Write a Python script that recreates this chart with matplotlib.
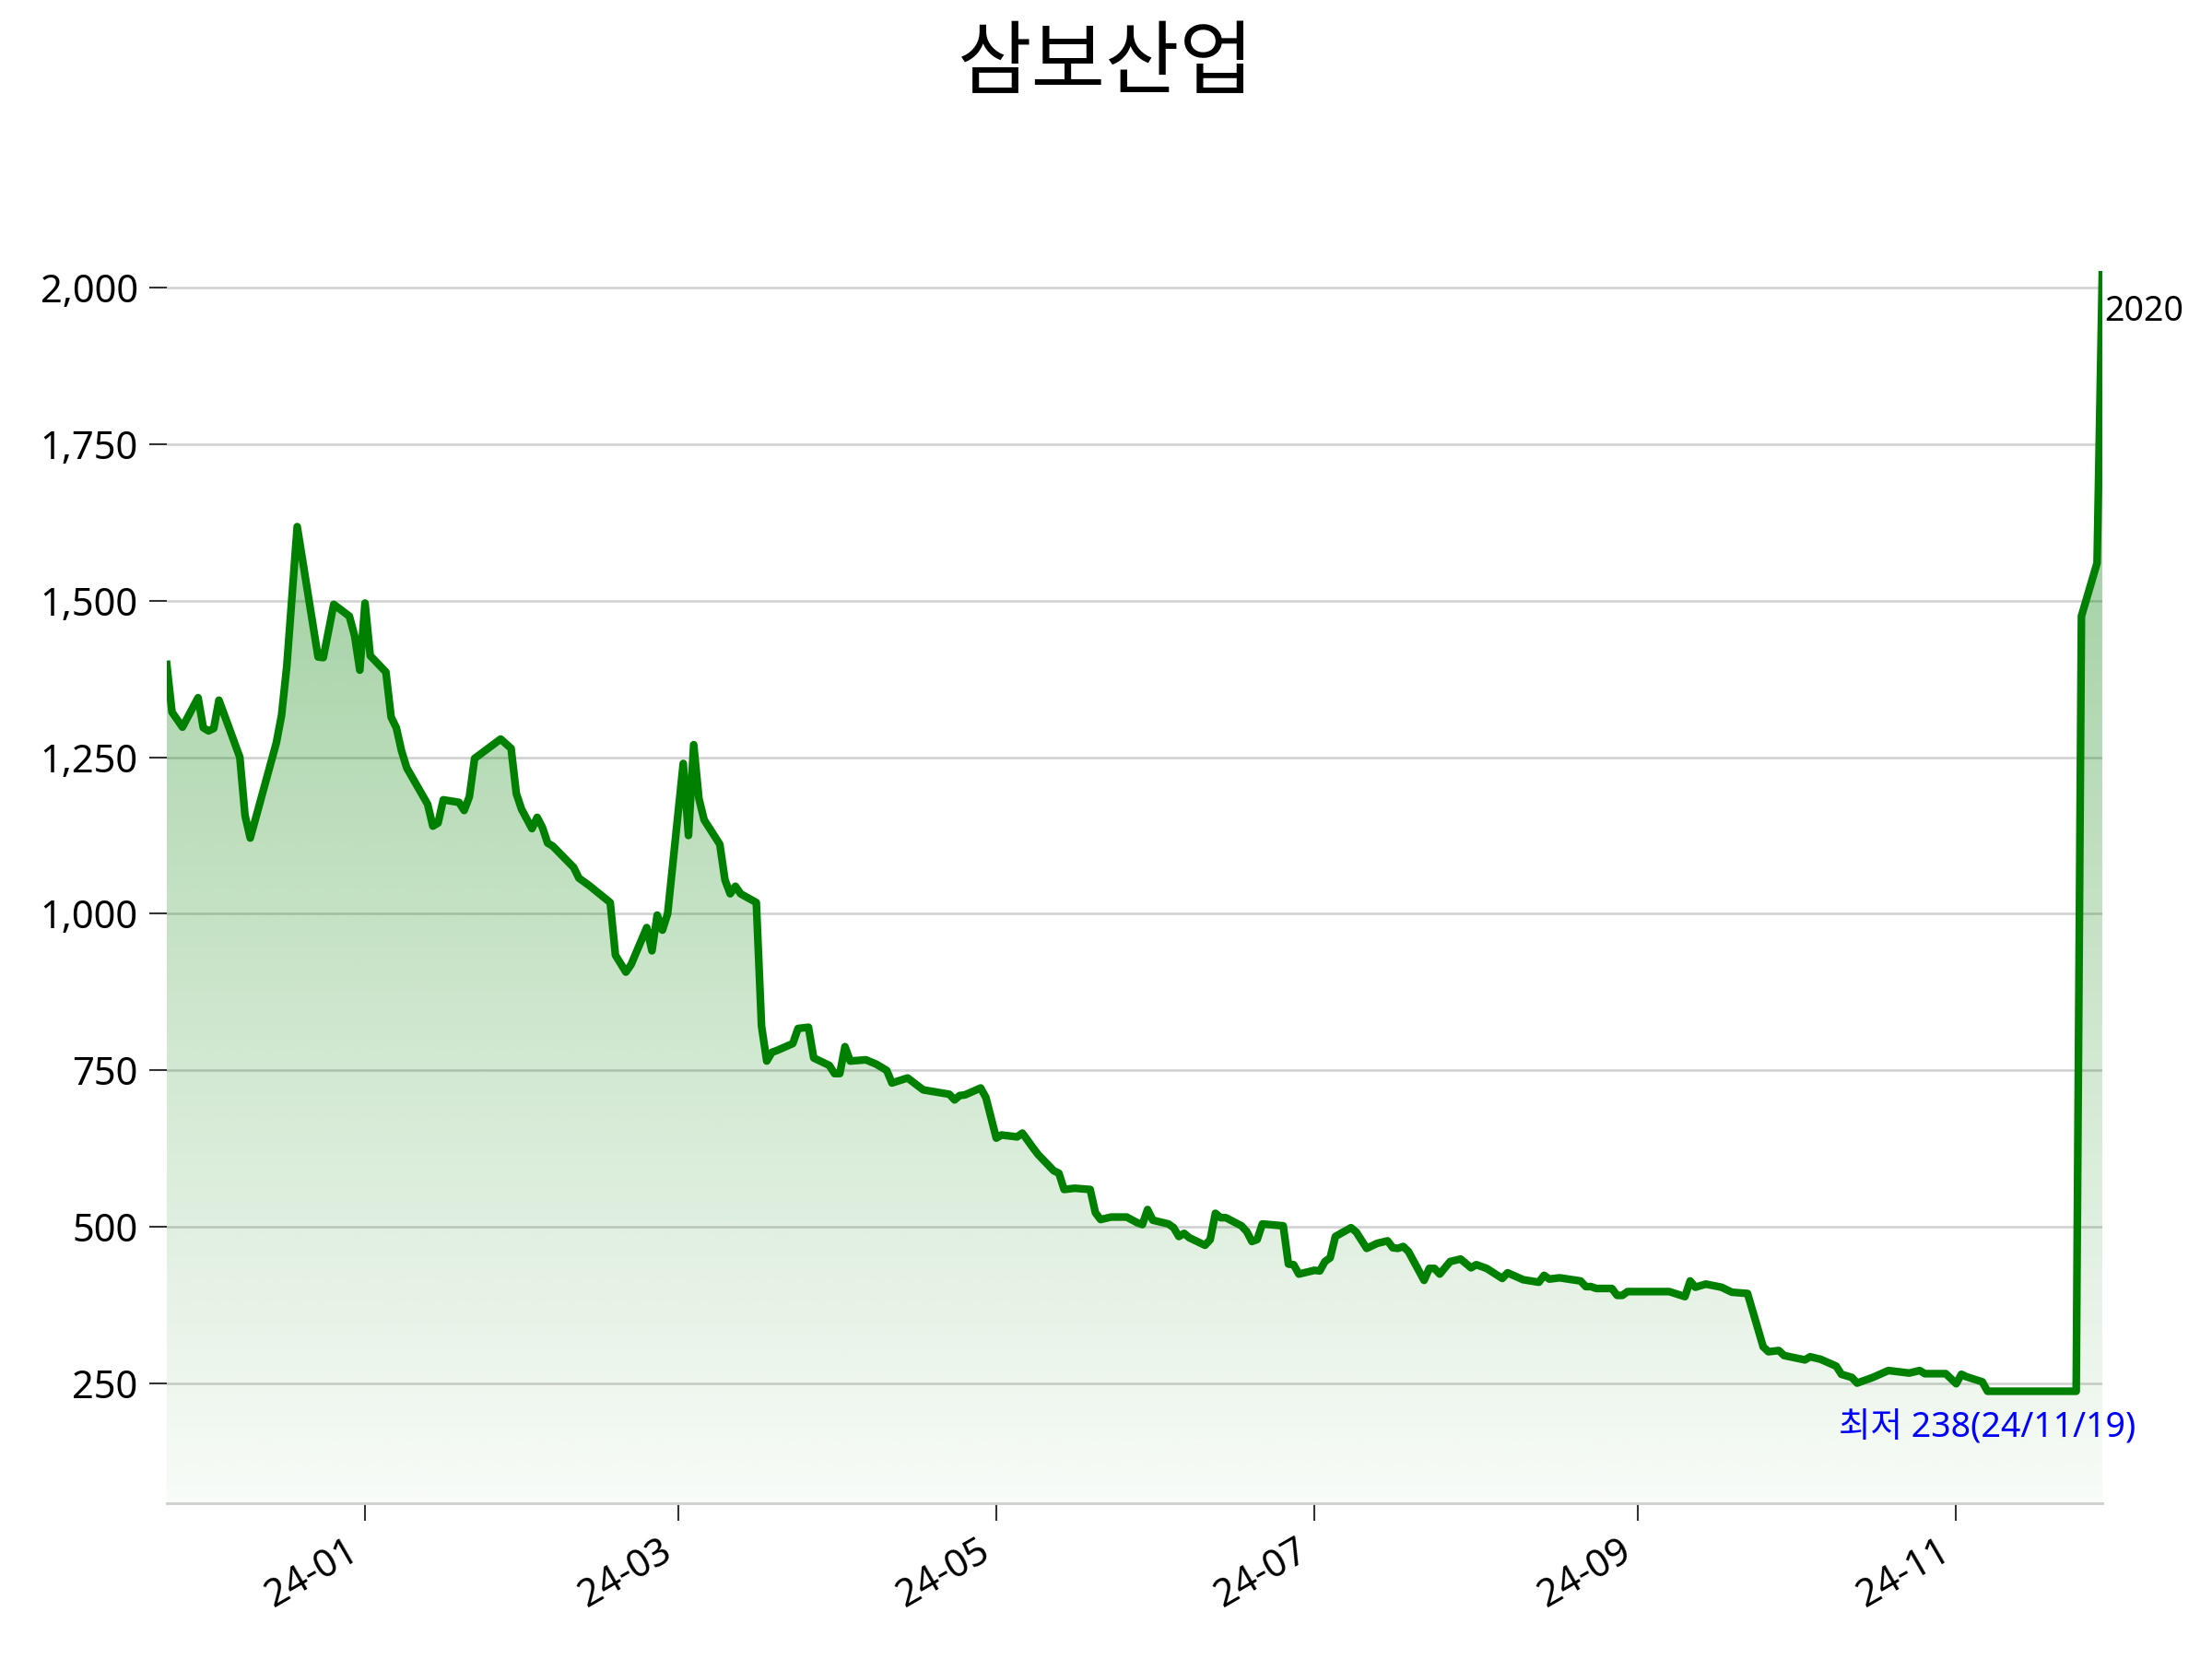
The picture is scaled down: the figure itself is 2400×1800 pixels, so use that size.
import matplotlib
matplotlib.use('Agg')
import matplotlib.pyplot as plt
import matplotlib.dates as mdates
import matplotlib.ticker as mticker
import numpy as np
import pandas as pd

plt.rcParams['font.family'] = ['Noto Sans', 'Noto Sans CJK KR', 'DejaVu Sans']

title = '삼보산업'
low_label = '최저 238(24/11/19)'

# closing prices
dates = [
    '2023-11-24', '2023-11-25', '2023-11-27', '2023-11-30', '2023-12-01',
    '2023-12-02', '2023-12-03', '2023-12-04', '2023-12-08', '2023-12-09',
    '2023-12-10', '2023-12-15', '2023-12-16', '2023-12-17', '2023-12-19',
    '2023-12-23', '2023-12-24', '2023-12-26', '2023-12-29', '2023-12-30',
    '2023-12-31', '2024-01-01', '2024-01-02', '2024-01-05', '2024-01-06',
    '2024-01-07', '2024-01-08', '2024-01-09', '2024-01-13', '2024-01-14',
    '2024-01-15', '2024-01-16', '2024-01-19', '2024-01-20', '2024-01-21',
    '2024-01-22', '2024-01-27', '2024-01-29', '2024-01-30', '2024-01-31',
    '2024-02-02', '2024-02-03', '2024-02-04', '2024-02-05', '2024-02-06',
    '2024-02-10', '2024-02-11', '2024-02-13', '2024-02-17', '2024-02-18',
    '2024-02-20', '2024-02-21', '2024-02-24', '2024-02-25', '2024-02-26',
    '2024-02-27', '2024-02-28', '2024-03-02', '2024-03-03', '2024-03-04',
    '2024-03-05', '2024-03-06', '2024-03-09', '2024-03-10', '2024-03-11',
    '2024-03-12', '2024-03-13', '2024-03-16', '2024-03-17', '2024-03-18',
    '2024-03-19', '2024-03-20', '2024-03-23', '2024-03-24', '2024-03-26',
    '2024-03-27', '2024-03-30', '2024-03-31', '2024-04-01', '2024-04-02',
    '2024-04-03', '2024-04-06', '2024-04-08', '2024-04-10', '2024-04-11',
    '2024-04-14', '2024-04-17', '2024-04-22', '2024-04-23', '2024-04-24',
    '2024-04-25', '2024-04-28', '2024-04-29', '2024-05-01', '2024-05-02',
    '2024-05-05', '2024-05-06', '2024-05-08', '2024-05-09', '2024-05-12',
    '2024-05-13', '2024-05-14', '2024-05-16', '2024-05-19', '2024-05-20',
    '2024-05-21', '2024-05-23', '2024-05-26', '2024-05-28', '2024-05-29',
    '2024-05-30', '2024-05-31', '2024-06-03', '2024-06-04', '2024-06-05',
    '2024-06-06', '2024-06-07', '2024-06-10', '2024-06-11', '2024-06-12',
    '2024-06-13', '2024-06-14', '2024-06-17', '2024-06-18', '2024-06-19',
    '2024-06-20', '2024-06-21', '2024-06-25', '2024-06-26', '2024-06-27',
    '2024-06-28', '2024-07-01', '2024-07-02', '2024-07-03', '2024-07-04',
    '2024-07-05', '2024-07-08', '2024-07-09', '2024-07-11', '2024-07-13',
    '2024-07-15', '2024-07-16', '2024-07-17', '2024-07-18', '2024-07-19',
    '2024-07-22', '2024-07-23', '2024-07-24', '2024-07-25', '2024-07-27',
    '2024-07-29', '2024-07-31', '2024-08-01', '2024-08-03', '2024-08-06',
    '2024-08-07', '2024-08-10', '2024-08-13', '2024-08-14', '2024-08-15',
    '2024-08-17', '2024-08-21', '2024-08-22', '2024-08-23', '2024-08-24',
    '2024-08-27', '2024-08-28', '2024-08-29', '2024-08-30', '2024-09-07',
    '2024-09-10', '2024-09-11', '2024-09-12', '2024-09-14', '2024-09-17',
    '2024-09-19', '2024-09-22', '2024-09-25', '2024-09-26', '2024-09-28',
    '2024-09-29', '2024-10-03', '2024-10-04', '2024-10-06', '2024-10-09',
    '2024-10-10', '2024-10-12', '2024-10-13', '2024-10-16', '2024-10-19',
    '2024-10-23', '2024-10-25', '2024-10-26', '2024-10-30', '2024-11-01',
    '2024-11-02', '2024-11-03', '2024-11-06', '2024-11-07', '2024-11-19',
    '2024-11-24', '2024-11-25', '2024-11-28', '2024-11-29',
]
prices = [
    1398, 1322, 1298, 1345, 1297, 1292, 1296, 1341, 1250, 1157,
    1121, 1273, 1317, 1395, 1618, 1410, 1409, 1494, 1475, 1444,
    1389, 1496, 1412, 1386, 1314, 1297, 1260, 1233, 1175, 1140,
    1145, 1182, 1178, 1165, 1187, 1248, 1279, 1264, 1192, 1167,
    1136, 1154, 1138, 1113, 1108, 1074, 1057, 1045, 1018, 934,
    907, 919, 978, 941, 998, 974, 1000, 1240, 1125, 1270,
    1184, 1150, 1111, 1054, 1032, 1044, 1032, 1018, 821, 765,
    779, 782, 793, 817, 819, 770, 758, 745, 745, 788,
    765, 767, 760, 750, 730, 738, 719, 712, 703, 710,
    711, 722, 707, 642, 647, 644, 650, 627, 616, 590,
    586, 560, 562, 560, 523, 512, 516, 516, 507, 504,
    528, 511, 505, 499, 485, 490, 483, 471, 480, 522,
    515, 515, 502, 493, 477, 480, 505, 502, 441, 440,
    425, 431, 430, 445, 451, 485, 499, 492, 466, 474,
    478, 467, 466, 469, 461, 415, 434, 434, 425, 445,
    449, 435, 440, 434, 418, 427, 416, 412, 423, 417,
    419, 414, 405, 405, 402, 402, 391, 391, 397, 397,
    389, 414, 404, 409, 404, 396, 394, 309, 301, 303,
    295, 288, 293, 289, 278, 265, 260, 251, 260, 271,
    267, 271, 266, 266, 250, 265, 261, 253, 238, 238,
    238, 1475, 1560, 2020,
]

x = mdates.date2num(pd.to_datetime(dates))
y = np.array(prices, dtype=float)
y_lo, y_hi = 59.5, 2027

fig = plt.figure(figsize=(8, 6), dpi=300)
ax = fig.add_axes([0.0754, 0.094, 0.875, 0.743])

# gradient area under the line
poly = ax.fill_between(x, y, y_lo, facecolor='none', edgecolor='none')
grad = np.zeros((256, 1, 4))
grad[..., 1] = 128 / 255
grad[..., 3] = np.linspace(0.45, 0.03, 256)[:, None]
img = ax.imshow(grad, extent=[x[0], x[-1], y_lo, y_hi], aspect='auto',
                origin='upper', zorder=1, interpolation='bilinear')
img.set_clip_path(poly.get_paths()[0], transform=ax.transData)

ax.plot(x, y, color='green', lw=2, zorder=3)

ax.set_xlim(x[0], x[-1])
ax.set_ylim(y_lo, y_hi)

ax.yaxis.set_major_locator(mticker.MultipleLocator(250))
ax.yaxis.set_major_formatter(mticker.FuncFormatter(lambda v, p: f'{v:,.0f}'))
ax.xaxis.set_major_locator(mdates.MonthLocator(bymonth=[1, 3, 5, 7, 9, 11]))
ax.xaxis.set_major_formatter(mdates.DateFormatter('%y-%m'))
plt.setp(ax.get_xticklabels(), rotation=30, ha='right')

ax.grid(axis='y', color='#d0d0d0', lw=0.6)
ax.set_axisbelow(True)
for side in ['top', 'right', 'left']:
    ax.spines[side].set_visible(False)
ax.spines['bottom'].set_color('#d0d0d0')
ax.spines['bottom'].set_linewidth(0.7)
ax.tick_params(axis='both', length=4.5, width=0.5, color='#333333', labelsize=10, pad=3)

# annotations
i_low = int(np.argmin(y))
ax.annotate(low_label, xy=(x[i_low], y[i_low]), xytext=(0, -5),
            textcoords='offset points', ha='center', va='top',
            color='blue', fontsize=9, annotation_clip=False)
ax.annotate(f'{prices[-1]}', xy=(x[-1], y[-1]), xytext=(0.5, -5),
            textcoords='offset points', ha='left', va='top',
            color='black', fontsize=9, annotation_clip=False)

fig.text(0.5, 0.960, title, ha='center', va='center', fontsize=21)

fig.savefig('out.png', dpi=300)
